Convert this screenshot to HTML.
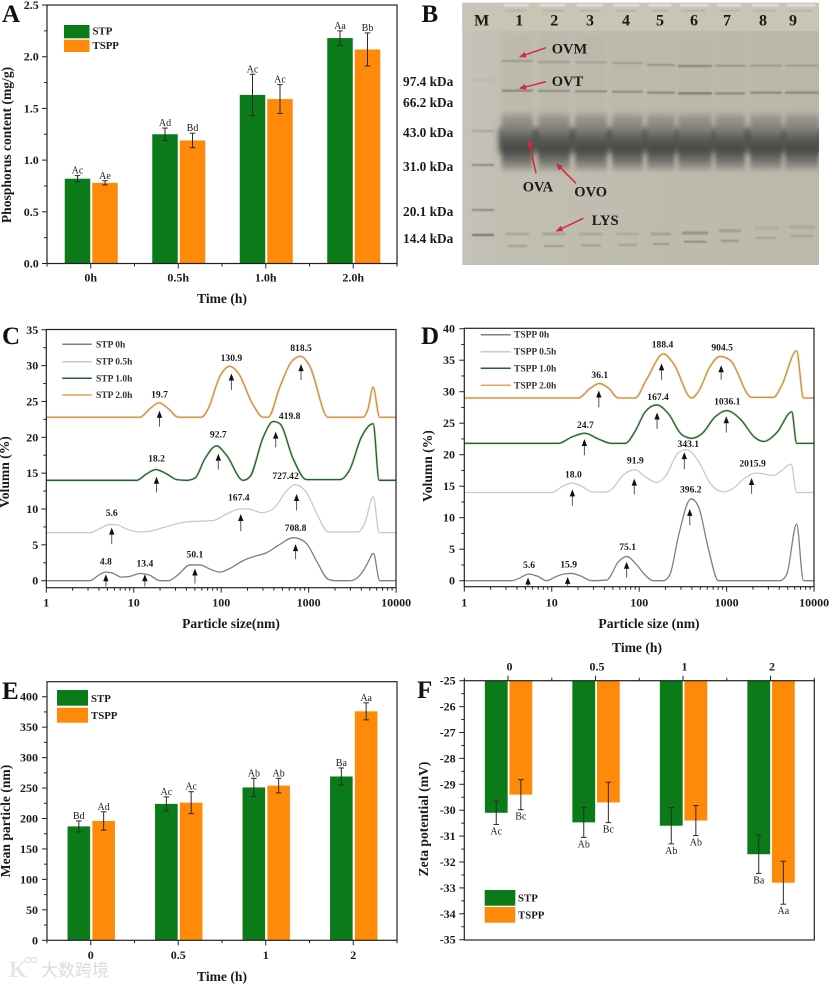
<!DOCTYPE html>
<html lang="en">
<head>
<meta charset="utf-8">
<title>Phosphorylation figure panels</title>
<style>
html,body{margin:0;padding:0;background:#fff;width:829px;height:985px;overflow:hidden}
svg{display:block;filter:blur(.35px)}
text{font-family:"Liberation Serif","Noto Serif CJK SC",serif;fill:#1a1a1a}
.panel{font-size:25px;font-weight:bold;fill:#111}
.title{font-size:13.6px;font-weight:bold;text-anchor:middle}
.leg{font-size:10.8px;font-weight:bold;dominant-baseline:central}
.legline{font-size:9.5px;font-weight:bold;dominant-baseline:central;fill:#333}
.kda{font-size:13.3px;font-weight:bold;text-anchor:end;dominant-baseline:central}
.gel{font-size:14.5px;font-weight:bold;fill:#1c1a16}
.lane{font-size:16px;font-weight:bold;text-anchor:middle;fill:#1c1a16}
</style>
</head>
<body>
<svg id="figure" xmlns="http://www.w3.org/2000/svg" width="829" height="985" viewBox="0 0 829 985">
<defs>
<filter id="blur-sm" x="-20%" y="-400%" width="140%" height="900%"><feGaussianBlur stdDeviation="0.9"/></filter>
<filter id="blur-md" x="-20%" y="-50%" width="140%" height="200%"><feGaussianBlur stdDeviation="2"/></filter>
<filter id="blur-lg" x="-10%" y="-50%" width="120%" height="200%"><feGaussianBlur stdDeviation="3.5"/></filter>
<linearGradient id="gel-bg" x1="0" y1="0" x2="1" y2="0">
<stop offset="0" stop-color="#c5c3b9"/><stop offset=".12" stop-color="#c1beb2"/><stop offset="1" stop-color="#bcb8ab"/>
</linearGradient>
<linearGradient id="band-grad" x1="0" y1="0" x2="0" y2="1">
<stop offset="0" stop-color="#b3b1a6"/><stop offset=".1" stop-color="#97968d"/><stop offset=".3" stop-color="#7f7e77"/>
<stop offset=".45" stop-color="#5b5b58"/><stop offset=".62" stop-color="#484846"/><stop offset=".72" stop-color="#5c5c58"/>
<stop offset=".87" stop-color="#85847d"/><stop offset="1" stop-color="#b8b6aa"/>
</linearGradient>
<clipPath id="gel-clip"><rect x="462.3" y="2.7" width="356.7" height="262.3"/></clipPath>
<marker id="red-head" markerWidth="7" markerHeight="6" refX="6" refY="3" orient="auto" markerUnits="userSpaceOnUse"><path d="M0,0 L7,3 L0,6 Z" fill="#d8283a"/></marker>
</defs>

<g id="panel-a">
<text class="panel" x="2" y="22">A</text>
<text class="title" transform="translate(11,145) rotate(-90)">Phosphorus content (mg/g)</text>
<text class="title" x="222" y="303">Time (h)</text>
<rect x="64" y="25" width="25.5" height="13.3" fill="#0b7a18"/>
<rect x="64" y="39.7" width="25.5" height="12.3" fill="#ff8a0a"/>
<text class="leg" x="92.5" y="31.5">STP</text>
<text class="leg" x="92.5" y="46">TSPP</text>
</g>

<g id="panel-b">
<text class="panel" x="421.5" y="22">B</text>
<rect x="462.3" y="2.7" width="356.7" height="262.3" fill="url(#gel-bg)"/>
<g id="gel-content" clip-path="url(#gel-clip)"></g>
<g>
<text class="lane" x="481.7" y="25.3">M</text>
<text class="lane" x="519.3" y="25.3">1</text>
<text class="lane" x="554.3" y="25.3">2</text>
<text class="lane" x="590" y="25.3">3</text>
<text class="lane" x="626" y="25.3">4</text>
<text class="lane" x="660" y="25.3">5</text>
<text class="lane" x="694" y="25.3">6</text>
<text class="lane" x="727" y="25.3">7</text>
<text class="lane" x="763" y="25.3">8</text>
<text class="lane" x="793" y="25.3">9</text>
</g>
<g fill="none" stroke="#d8283a" stroke-width="1.5">
<line x1="546" y1="47.7" x2="520" y2="56.7" marker-end="url(#red-head)"/>
<line x1="546" y1="81.7" x2="520" y2="88.3" marker-end="url(#red-head)"/>
<line x1="536" y1="173.3" x2="529" y2="140.7" marker-end="url(#red-head)"/>
<line x1="576" y1="183.3" x2="556.7" y2="164" marker-end="url(#red-head)"/>
<line x1="583.3" y1="218.3" x2="556.7" y2="231" marker-end="url(#red-head)"/>
</g>
<text class="gel" x="551.7" y="53.5">OVM</text>
<text class="gel" x="551.7" y="86">OVT</text>
<text class="gel" x="522.7" y="191.7">OVA</text>
<text class="gel" x="574.3" y="196.7">OVO</text>
<text class="gel" x="591.7" y="225">LYS</text>
<text class="kda" x="453.3" y="81.7">97.4 kDa</text>
<text class="kda" x="453.3" y="102.3">66.2 kDa</text>
<text class="kda" x="453.3" y="132.7">43.0 kDa</text>
<text class="kda" x="453.3" y="166.7">31.0 kDa</text>
<text class="kda" x="453.3" y="211.7">20.1 kDa</text>
<text class="kda" x="453.3" y="238.3">14.4 kDa</text>
</g>

<g id="panel-c">
<text class="panel" x="2" y="344">C</text>
<text class="title" transform="translate(9,472) rotate(-90)">Volumn (%)</text>
<text class="title" x="231" y="628">Particle size(nm)</text>
</g>

<g id="panel-d">
<text class="panel" x="421" y="344">D</text>
<text class="title" transform="translate(432,466) rotate(-90)">Volumn (%)</text>
<text class="title" x="649" y="628">Particle size (nm)</text>
</g>

<g id="panel-e">
<text class="panel" x="2" y="699">E</text>
<text class="title" transform="translate(10,821) rotate(-90)">Mean particle (nm)</text>
<text class="title" x="222" y="981">Time (h)</text>
<rect x="57" y="690" width="31" height="15.7" fill="#0b7a18"/>
<rect x="57" y="707.7" width="31" height="15" fill="#ff8a0a"/>
<text class="leg" x="91" y="699">STP</text>
<text class="leg" x="91" y="716">TSPP</text>
</g>

<g id="panel-f">
<text class="panel" x="417" y="698">F</text>
<text class="title" transform="translate(428,819) rotate(-90)">Zeta potential (mV)</text>
<text class="title" x="637" y="652">Time (h)</text>
<rect x="484.7" y="890" width="30.6" height="15.7" fill="#0b7a18"/>
<rect x="484.7" y="907" width="30.6" height="15.7" fill="#ff8a0a"/>
<text class="leg" x="518" y="898.7">STP</text>
<text class="leg" x="518" y="915.3">TSPP</text>
</g>

<g>
<text x="9" y="977" font-size="23" font-weight="bold" style="fill:#e6e6e6">K</text>
<circle cx="28" cy="960" r="2.6" fill="none" stroke="#e2e2e2" stroke-width="1.3"/>
<circle cx="34" cy="960" r="2.6" fill="none" stroke="#e2e2e2" stroke-width="1.3"/>
<text x="41" y="976" font-size="17" style="font-family:'Liberation Sans','Noto Sans CJK SC',sans-serif;fill:#dcdcdc">大数跨境</text>
</g>
</svg>

<script>
/* ---------- Panel A data ---------- */
const aCategories = ['0h', '0.5h', '1.0h', '2.0h'];
const aStp = [0.82, 1.25, 1.63, 2.18];
const aTspp = [0.78, 1.19, 1.59, 2.07];
const aStpErr = [0.03, 0.06, 0.2, 0.07];
const aTsppErr = [0.02, 0.07, 0.14, 0.16];
const aStpMarks = ['Ac', 'Ad', 'Ac', 'Aa'];
const aTsppMarks = ['Ae', 'Bd', 'Ac', 'Bb'];
const aYTicks = ['0.0', '0.5', '1.0', '1.5', '2.0', '2.5'];

/* ---------- Panel E data ---------- */
const eCategories = ['0', '0.5', '1', '2'];
const eStp = [187, 224, 251, 269];
const eTspp = [196, 226, 254, 376];
const eStpErr = [9, 11.5, 15, 14];
const eTsppErr = [15, 18, 12, 14];
const eStpMarks = ['Bd', 'Ac', 'Ab', 'Ba'];
const eTsppMarks = ['Ad', 'Ac', 'Ab', 'Aa'];
const eYTicks = ['0', '50', '100', '150', '200', '250', '300', '350', '400'];

/* ---------- Panel F data ---------- */
const fCategories = ['0', '0.5', '1', '2'];
const fStp = [-30.1, -30.47, -30.6, -31.7];
const fTspp = [-29.4, -29.7, -30.4, -32.8];
const fStpErr = [0.45, 0.58, 0.7, 0.74];
const fTsppErr = [0.58, 0.78, 0.58, 0.83];
const fStpMarks = ['Ac', 'Ab', 'Ab', 'Ba'];
const fTsppMarks = ['Bc', 'Bc', 'Ab', 'Aa'];
const fYTicks = ['-25', '-26', '-27', '-28', '-29', '-30', '-31', '-32', '-33', '-34', '-35'];

/* ---------- Panel C data ---------- */
const logTicks = ['1', '10', '100', '1000', '10000'];
const cYTicks = ['0', '5', '10', '15', '20', '25', '30', '35'];
const stp0hSizes = [1, 3.16, 4, 4.7, 5.6, 7.3, 9, 11.8, 15, 20, 24.8, 32, 44, 57, 75, 96.6, 130, 178, 240, 330, 460, 665, 800, 945, 1250, 1670, 2000, 2950, 3400, 4000, 4700, 5500, 6500, 10000];
const stp0hVolumes = [0, 0, 0.8, 1.2, 1.1, 0.5, 0.6, 1, 0.8, 0, 0, 0.8, 2.2, 2.2, 1.6, 1.2, 1.8, 2.8, 3.4, 3.9, 5, 6, 5.8, 5.2, 2.6, 0.2, 0, 0, 0.2, 1, 2.4, 3.8, 0, 0];
const stp05hSizes = [1, 3.16, 4.1, 5.3, 6.4, 8.3, 11.3, 15.3, 21.7, 40, 81, 115, 163, 204, 290, 392, 558, 695, 945, 1300, 1670, 3680, 4370, 5500, 6380, 10000];
const stp05hVolumes = [6.7, 6.7, 7.3, 7.85, 7.8, 7.2, 6.8, 6.9, 7.4, 8.2, 8.4, 9.3, 10, 10, 9.5, 10, 12.5, 13.4, 12.3, 8.8, 6.8, 6.8, 8, 11.7, 6.7, 6.7];
const stp1hSizes = [1, 10.8, 14, 17.9, 23.7, 31, 40, 50, 65, 88.5, 115, 178, 213, 302, 393, 468, 665, 945, 2270, 2950, 4000, 5460, 6400, 10000];
const stp1hVolumes = [14, 14, 14.9, 15.5, 14.9, 14.1, 14, 14.3, 17, 18.8, 17.5, 14, 14.5, 20, 22.2, 21.9, 17, 14.1, 14.1, 15.5, 20, 21.9, 14, 14];
const stp2hSizes = [1, 11.8, 15.3, 19.5, 24.8, 32.3, 59.6, 71, 96.6, 126, 156, 232, 302, 344, 468, 633, 813, 1023, 1670, 4170, 4786, 5460, 6470, 10000];
const stp2hVolumes = [22.8, 22.8, 24, 24.8, 24, 22.8, 22.8, 24, 28.5, 29.9, 29, 24.5, 22.8, 22.8, 27, 30.5, 31.3, 30, 22.8, 22.8, 24, 27, 22.8, 22.8];
const cPeakLabels = ['4.8', '13.4', '50.1', '708.8', '5.6', '167.4', '727.42', '18.2', '92.7', '419.8', '19.7', '130.9', '818.5'];
const cPeakTips = [0.9, 0.9, 1.7, 5.1, 7.4, 9.3, 12.1, 14.5, 17.7, 20.8, 23.7, 28.9, 30.2];
const cPeakTails = [-0.8, -0.8, -0.4, 3, 5.1, 6.9, 9.8, 12.3, 15.5, 18.6, 21.5, 26.6, 28];
const cPeakTextVolumes = [2.6, 2.3, 3.6, 7.3, 9.4, 11.5, 14.5, 17, 20.3, 22.9, 25.9, 31, 32.4];

/* ---------- Panel D data ---------- */
const dYTicks = ['0', '5', '10', '15', '20', '25', '30', '35', '40'];
const tspp0hSizes = [1, 3.5, 4.4, 5.4, 6.9, 8.7, 11, 14.2, 16.9, 21, 28.6, 42.5, 57.8, 72, 93.7, 115, 145, 189, 225, 280, 392, 475, 620, 805, 4074, 4864, 6310, 7550, 10000];
const tspp0hVolumes = [0, 0, 0.5, 1.05, 0.7, 0, 0.6, 1.1, 1.15, 0.8, 0, 0.1, 3, 3.85, 2.5, 1, 0, 0, 1, 7, 13, 11.8, 5, 0, 0, 1, 9, 0, 0];
const tspp05hSizes = [1, 10, 13, 16.9, 22, 28.6, 40.6, 48.4, 66, 89.6, 117, 158, 198, 280, 349, 475, 646, 918, 1143, 1622, 2208, 3428, 4266, 5458, 6310, 10000];
const tspp05hVolumes = [14, 14, 14.9, 15.5, 15, 14.1, 14.05, 14.5, 16.8, 17.6, 16.5, 15.6, 16.5, 20.3, 20.8, 19, 15.5, 14.1, 14.5, 16.3, 17.1, 16.7, 17.5, 18.5, 14, 14];
const tspp1hSizes = [1, 11.9, 16.9, 24, 34, 48.4, 69, 89.6, 117, 158, 216, 306, 398, 519, 737, 1000, 1422, 2113, 2630, 3740, 5556, 6310, 10000];
const tspp1hVolumes = [21.8, 21.8, 22.8, 23.4, 22.5, 21.8, 21.8, 23.7, 26.8, 27.9, 26.5, 23.2, 22.6, 23.3, 26, 27, 25.7, 22.7, 22.1, 23.5, 26.8, 21.8, 21.8];
const tspp2hSizes = [1, 20.1, 27.4, 35, 44.4, 57.8, 89.6, 122, 189, 246, 398, 475, 646, 841, 1096, 1936, 3428, 4266, 6310, 7550, 10000];
const tspp2hVolumes = [29, 29, 30.5, 31.3, 30.6, 29, 29, 32, 36, 34.5, 29, 30, 34, 35.6, 35, 29.1, 29.1, 31, 36.5, 29, 29];
const dPeakLabels = ['5.6', '15.9', '75.1', '396.2', '18.0', '91.9', '343.1', '2015.9', '24.7', '167.4', '1036.1', '36.1', '188.4', '904.5'];
const dPeakTips = [0.5, 0.6, 3, 11.4, 14.5, 16.2, 20.4, 16.3, 22.5, 26.7, 26.1, 30.2, 34.5, 34.2];
const dPeakTails = [-1, -1, 0.5, 8.8, 11.9, 13.7, 17.7, 13.8, 19.9, 24.1, 23.5, 27.5, 31.9, 31.9];
const dPeakTextVolumes = [2.4, 2.5, 5.3, 14.4, 16.8, 19, 21.6, 18.5, 24.6, 29.1, 28.4, 32.6, 37.4, 36.9];

const NS = 'http://www.w3.org/2000/svg';
const INK = '#222';
const STP_COLOR = '#0b7a18';
const TSPP_COLOR = '#ff8a0a';

function add(parent, tag, attrs, content) {
  const el = document.createElementNS(NS, tag);
  for (const k in attrs) el.setAttribute(k, attrs[k]);
  if (content !== undefined) el.textContent = content;
  parent.appendChild(el);
  return el;
}

function frame(parent, x0, y0, x1, y1) {
  const r = add(parent, 'rect', { x: x0, y: y0, width: x1 - x0, height: y1 - y0, fill: 'none', stroke: INK, 'stroke-width': 1.2 });
  
  
}

function tick(parent, x1, y1, x2, y2) {
  const t = add(parent, 'line', { x1, y1, x2, y2, stroke: INK, 'stroke-width': 1 });
  
  
}

function tickLabel(parent, x, y, anchor, value) {
  const t = add(parent, 'text', { x, y, 'text-anchor': anchor, 'dominant-baseline': 'central', 'font-size': 12, 'font-weight': 'bold' }, value);
  
  
}

function yAxis(parent, x0, labelX, labels, yScale, minorStep) {
  const values = labels.map(Number);
  labels.forEach((lab, i) => {
    tick(parent, x0, yScale(values[i]), x0 - 5, yScale(values[i]));
    tickLabel(parent, labelX, yScale(values[i]), 'end', lab);
    if (i < labels.length - 1) {
      const mid = values[i] + (values[i + 1] > values[i] ? minorStep : -minorStep);
      tick(parent, x0, yScale(mid), x0 - 3, yScale(mid));
    }
  });
}

function barMark(parent, name, x, width, base, value, color) {
  const top = Math.min(base, value);
  const bar = add(parent, 'rect', { x, y: top, width, height: Math.abs(base - value), fill: color });
  
  
}

function errorBar(parent, name, x, yLow, yHigh) {
  const g = add(parent, 'g', { stroke: '#2a2a2a', 'stroke-width': 1 });
  
  
  add(g, 'line', { x1: x, x2: x, y1: yLow, y2: yHigh });
  add(g, 'line', { x1: x - 2.8, x2: x + 2.8, y1: yLow, y2: yLow });
  add(g, 'line', { x1: x - 2.8, x2: x + 2.8, y1: yHigh, y2: yHigh });
}

function sigLabel(parent, x, y, value) {
  const t = add(parent, 'text', { x, y, 'text-anchor': 'middle', 'font-size': 10, fill: '#222' }, value);
  
  
}

function drawGroupedBars(parent, opt) {
  opt.categories.forEach((cat, i) => {
    const cx = opt.catX(i);
    const gx = cx - opt.gap - opt.barW;
    const ox = cx + opt.gap + 1;
    const base = opt.y(opt.baseValue);
    barMark(parent, 'bar-stp-' + cat, gx, opt.barW, base, opt.y(opt.stp[i]), STP_COLOR);
    barMark(parent, 'bar-tspp-' + cat, ox, opt.barW, base, opt.y(opt.tspp[i]), TSPP_COLOR);
    const pairs = [
      [gx + opt.barW / 2, opt.stp[i], opt.stpErr[i], opt.stpMarks[i], 'stp'],
      [ox + opt.barW / 2, opt.tspp[i], opt.tsppErr[i], opt.tsppMarks[i], 'tspp']
    ];
    pairs.forEach(p => {
      const yA = opt.y(p[1] + p[2]);
      const yB = opt.y(p[1] - p[2]);
      errorBar(parent, 'error-bar-' + p[4] + '-' + cat, p[0], yA, yB);
      if (opt.labelsBelow) sigLabel(parent, p[0], yB + 10, p[3]);
      else sigLabel(parent, p[0], yA - 2, p[3]);
    });
  });
}

function drawCategoryAxis(parent, opt) {
  const sign = opt.outward;
  for (let i = 0; i <= 8; i++) {
    const x = opt.x0 + i * (opt.x1 - opt.x0) / 8;
    tick(parent, x, opt.axisY, x, opt.axisY + sign * (i % 2 ? 5 : 3));
  }
  opt.categories.forEach((cat, i) => {
    tickLabel(parent, opt.catX(i) + (opt.labelDx || 0), opt.labelY, 'middle', cat);
  });
}

/* Shape-preserving cubic path so the drawn curve passes through every read point. */
function monotonePath(px, py) {
  const n = px.length;
  const dx = [], s = [], m = new Array(n);
  for (let i = 0; i < n - 1; i++) {
    dx[i] = px[i + 1] - px[i];
    s[i] = (py[i + 1] - py[i]) / dx[i];
  }
  m[0] = s[0];
  m[n - 1] = s[n - 2];
  for (let i = 1; i < n - 1; i++) {
    if (s[i - 1] * s[i] <= 0) {
      m[i] = 0;
    } else {
      const p = (s[i - 1] * dx[i] + s[i] * dx[i - 1]) / (dx[i - 1] + dx[i]);
      const sign = s[i] > 0 ? 1 : -1;
      m[i] = 2 * sign * Math.min(Math.abs(s[i - 1]), Math.abs(s[i]), 0.5 * Math.abs(p));
    }
  }
  let d = 'M' + px[0].toFixed(2) + ',' + py[0].toFixed(2);
  for (let i = 0; i < n - 1; i++) {
    const h = dx[i] / 3;
    d += 'C' + (px[i] + h).toFixed(2) + ',' + (py[i] + m[i] * h).toFixed(2) + ' ' +
      (px[i + 1] - h).toFixed(2) + ',' + (py[i + 1] - m[i + 1] * h).toFixed(2) + ' ' +
      px[i + 1].toFixed(2) + ',' + py[i + 1].toFixed(2);
  }
  return d;
}

function curve(parent, name, sizes, volumes, x, y, color, halo) {
  const d = monotonePath(sizes.map(x), volumes.map(y));
  if (halo) {
    const h = add(parent, 'path', { d, fill: 'none', stroke: halo, 'stroke-width': 2.6, opacity: 0.55 });
    
    
  }
  const line = add(parent, 'path', { d, fill: 'none', stroke: color, 'stroke-width': 1.3, 'stroke-linejoin': 'round' });
  
  
}

function peakArrow(parent, x, tipY, tailY, label, textY, textDx) {
  const g = add(parent, 'g', {});
  
  
  add(g, 'line', { x1: x, x2: x, y1: tipY + 5, y2: tailY, stroke: '#555', 'stroke-width': 1 });
  add(g, 'polygon', { points: (x - 2.7) + ',' + (tipY + 7) + ' ' + x + ',' + tipY + ' ' + (x + 2.7) + ',' + (tipY + 7), fill: '#111' });
  const t = add(parent, 'text', { x: x + textDx, y: textY, 'text-anchor': 'middle', 'dominant-baseline': 'central', 'font-size': 9.6, 'font-weight': 'bold' }, label);
  
  
}

function drawLogAxis(parent, x0, axisY, decade, labelY) {
  logTicks.forEach((lab, i) => {
    const x = x0 + i * decade;
    tick(parent, x, axisY, x, axisY + 5);
    tickLabel(parent, x, labelY, 'middle', lab);
    if (i < logTicks.length - 1) {
      for (let m = 2; m <= 9; m++) {
        const mx = x + Math.log10(m) * decade;
        tick(parent, mx, axisY, mx, axisY + 3);
      }
    }
  });
}

function legendLine(parent, x1, x2, y, color, label, textX) {
  const l = add(parent, 'line', { x1, x2, y1: y - 1, y2: y - 1, stroke: color, 'stroke-width': 1.5 });
  
  
  const t = add(parent, 'text', { x: textX, y, class: 'legline' }, label);
  
  
}

/* ---------- Panel A ---------- */
(function () {
  const p = document.getElementById('panel-a');
  const y = v => 263.5 - v * (258.5 / 2.5);
  const catX = i => 90.75 + 87.5 * i;
  drawGroupedBars(p, { categories: aCategories, catX, y, baseValue: 0, barW: 25.5, gap: 0.5, stp: aStp, tspp: aTspp, stpErr: aStpErr, tsppErr: aTsppErr, stpMarks: aStpMarks, tsppMarks: aTsppMarks });
  frame(p, 47, 5, 397, 263.5);
  yAxis(p, 47, 38.7, aYTicks, y, 0.25);
  drawCategoryAxis(p, { categories: aCategories, catX, x0: 47, x1: 397, axisY: 263.5, outward: 1, labelY: 277.7 });
})();

/* ---------- Panel E ---------- */
(function () {
  const p = document.getElementById('panel-e');
  const y = v => 940.3 - v * 0.609;
  const catX = i => 90.75 + 87.5 * i;
  drawGroupedBars(p, { categories: eCategories, catX, y, baseValue: 0, barW: 22.6, gap: 0.6, stp: eStp, tspp: eTspp, stpErr: eStpErr, tsppErr: eTsppErr, stpMarks: eStpMarks, tsppMarks: eTsppMarks });
  frame(p, 47, 681.7, 397, 940.3);
  yAxis(p, 47, 38, eYTicks, y, 25);
  drawCategoryAxis(p, { categories: eCategories, catX, x0: 47, x1: 397, axisY: 940.3, outward: 1, labelY: 955 });
})();

/* ---------- Panel F ---------- */
(function () {
  const p = document.getElementById('panel-f');
  const y = v => 680.7 + (-25 - v) * 25.9;
  const catX = i => 508.05 + 87.5 * i;
  drawGroupedBars(p, { categories: fCategories, catX, y, baseValue: -25, barW: 22.8, gap: 0.4, labelsBelow: true, stp: fStp, tspp: fTspp, stpErr: fStpErr, tsppErr: fTsppErr, stpMarks: fStpMarks, tsppMarks: fTsppMarks });
  frame(p, 464.3, 680.7, 814.3, 940);
  yAxis(p, 464.3, 455.7, fYTicks, y, 0.5);
  drawCategoryAxis(p, { categories: fCategories, catX, x0: 464.3, x1: 814.3, axisY: 680.7, outward: -1, labelY: 666.7, labelDx: 1.5 });
})();

/* ---------- Panel C ---------- */
(function () {
  const p = document.getElementById('panel-c');
  const x = nm => 46.3 + Math.log10(nm) * 87.45;
  const y = v => 580.7 - v * 7.17;
  curve(p, 'series-stp-0h', stp0hSizes, stp0hVolumes, x, y, '#7f7f7f');
  curve(p, 'series-stp-0.5h', stp05hSizes, stp05hVolumes, x, y, '#c9c9c7');
  curve(p, 'series-stp-1.0h', stp1hSizes, stp1hVolumes, x, y, '#27602f', '#a9d3a4');
  curve(p, 'series-stp-2.0h', stp2hSizes, stp2hVolumes, x, y, '#c9924a', '#f8cf92');
  frame(p, 46.3, 329.5, 396, 587.7);
  yAxis(p, 46.3, 38.3, cYTicks, y, 2.5);
  drawLogAxis(p, 46.3, 587.7, 87.45, 602.7);
  legendLine(p, 62.3, 91.7, 345.3, '#7f7f7f', 'STP 0h', 96);
  legendLine(p, 62.3, 91.7, 362.7, '#c9c9c7', 'STP 0.5h', 96);
  legendLine(p, 62.3, 91.7, 379.3, '#27602f', 'STP 1.0h', 96);
  legendLine(p, 62.3, 91.7, 396, '#e3a35c', 'STP 2.0h', 96);
  const labelShift = { '727.42': -11, '419.8': 14, '167.4': -2 };
  cPeakLabels.forEach((lab, i) => {
    peakArrow(p, x(parseFloat(lab)), y(cPeakTips[i]), y(cPeakTails[i]), lab, y(cPeakTextVolumes[i]), labelShift[lab] || 0);
  });
})();

/* ---------- Panel D ---------- */
(function () {
  const p = document.getElementById('panel-d');
  const x = nm => 464.3 + Math.log10(nm) * 87.45;
  const y = v => 580.7 - v * 6.3;
  curve(p, 'series-tspp-0h', tspp0hSizes, tspp0hVolumes, x, y, '#7f7f7f');
  curve(p, 'series-tspp-0.5h', tspp05hSizes, tspp05hVolumes, x, y, '#c9c9c7');
  curve(p, 'series-tspp-1.0h', tspp1hSizes, tspp1hVolumes, x, y, '#27602f', '#a9d3a4');
  curve(p, 'series-tspp-2.0h', tspp2hSizes, tspp2hVolumes, x, y, '#c9924a', '#f8cf92');
  frame(p, 464.3, 328.3, 814, 586.7);
  yAxis(p, 464.3, 455, dYTicks, y, 2.5);
  drawLogAxis(p, 464.3, 586.7, 87.45, 602.7);
  legendLine(p, 480.7, 510.7, 335.7, '#7f7f7f', 'TSPP 0h', 514);
  legendLine(p, 480.7, 510.7, 352.7, '#c9c9c7', 'TSPP 0.5h', 514);
  legendLine(p, 480.7, 510.7, 369.3, '#27602f', 'TSPP 1.0h', 514);
  legendLine(p, 480.7, 510.7, 386.3, '#e3a35c', 'TSPP 2.0h', 514);
  const labelShift = { '343.1': 3 };
  dPeakLabels.forEach((lab, i) => {
    peakArrow(p, x(parseFloat(lab)) - 1.7, y(dPeakTips[i]), y(dPeakTails[i]), lab, y(dPeakTextVolumes[i]), (labelShift[lab] || 0) + 1);
  });
})();

/* ---------- Panel B: gel photograph approximated with blurred bands ---------- */
(function () {
  const g = document.getElementById('gel-content');
  const laneLeft = [501.7, 538, 575, 612, 647, 678, 715, 750, 785];
  const laneRight = [533, 570, 607, 643, 675, 712, 745, 782, 819];
  const ovmY = [61, 62, 62.3, 63, 65, 66, 65.7, 65.7, 65.7];
  const ovmStrength = [0.45, 0.4, 0.35, 0.35, 0.5, 0.75, 0.5, 0.4, 0.4];
  const ovtY = [90.7, 91, 91.3, 91.7, 92.7, 93.3, 93.3, 92.7, 92.7];
  const ovtStrength = [0.65, 0.55, 0.55, 0.55, 0.6, 0.8, 0.6, 0.6, 0.6];
  const lysTopY = [234, 234, 234, 234, 234, 233, 230.7, 228.3, 227];
  const lysLowY = [246, 246, 245.5, 245, 244, 241.7, 241, 238, 236];
  const lysStrength = [0.25, 0.3, 0.25, 0.2, 0.3, 0.5, 0.35, 0.15, 0.2];
  const markerY = [80, 131, 165, 210, 235];
  const markerStrength = [0.08, 0.25, 0.5, 0.5, 0.75];

  const strip = add(g, 'rect', { x: 462, y: 2, width: 358, height: 29, fill: '#c8c4b6' });
  
  

  const haze = add(g, 'rect', { x: 499, y: 128, width: 326, height: 25, fill: '#52524f', filter: 'url(#blur-lg)' });
  
  

  laneLeft.forEach((lx, i) => {
    const w = laneRight[i] - lx;
    const well = add(g, 'rect', { x: lx + 2, y: 4, width: w - 6, height: 2.4, fill: '#e6e1d5', filter: 'url(#blur-sm)' });
    
    
    const wellLine = add(g, 'rect', { x: lx + 4, y: 10, width: w - 10, height: 1.3, fill: '#99958a', opacity: 0.5, filter: 'url(#blur-sm)' });
    
    
    const laneTint = add(g, 'rect', { x: lx, y: 33, width: w, height: 90, fill: '#b9b6a9', opacity: 0.45, filter: 'url(#blur-md)' });
    
    
    const main = add(g, 'rect', { x: lx, y: 112, width: w, height: 60, fill: 'url(#band-grad)', filter: 'url(#blur-md)' });
    
    
    const ovm = add(g, 'rect', { x: lx, y: ovmY[i] - 0.8, width: w, height: 1.6, fill: '#635f52', opacity: ovmStrength[i], filter: 'url(#blur-sm)' });
    
    
    const ovt = add(g, 'rect', { x: lx, y: ovtY[i] - 0.9, width: w, height: 1.8, fill: '#5c594c', opacity: ovtStrength[i], filter: 'url(#blur-sm)' });
    
    
    const lysA = add(g, 'rect', { x: lx + 4, y: lysTopY[i] - 1.5, width: w - 8, height: 3, fill: '#6b695e', opacity: lysStrength[i], filter: 'url(#blur-sm)' });
    
    
    const lysB = add(g, 'rect', { x: lx + 6, y: lysLowY[i] - 0.7, width: w - 12, height: 1.4, fill: '#5d5b50', opacity: lysStrength[i] + 0.2, filter: 'url(#blur-sm)' });
    
    
  });

  markerY.forEach((my, i) => {
    const m = add(g, 'rect', { x: 472, y: my - 0.9, width: 22, height: 1.8, fill: '#4a4840', opacity: markerStrength[i], filter: 'url(#blur-sm)' });
    
    
  });
})();
</script>
</body>
</html>
